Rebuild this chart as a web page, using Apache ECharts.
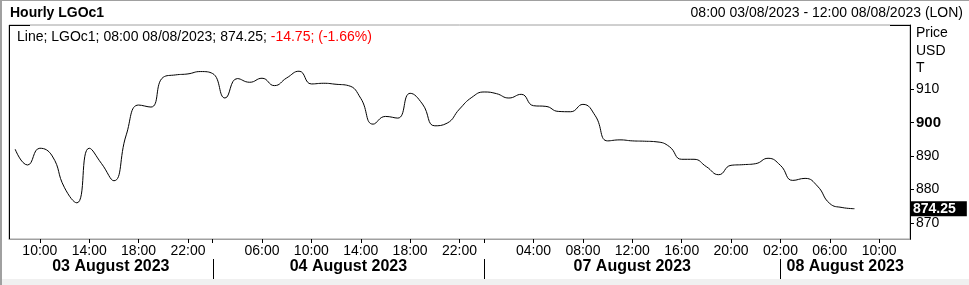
<!DOCTYPE html>
<html><head><meta charset="utf-8">
<script src="https://cdn.jsdelivr.net/npm/echarts@6/dist/echarts.min.js"></script>
<style>html,body{margin:0;padding:0;background:#fff;overflow:hidden}#c{width:969px;height:285px}</style>
</head><body><div id="c"></div>
<script>
// ---- data ----
const dayNames = ['03 August 2023', '04 August 2023', '07 August 2023', '08 August 2023'];
const dayKeys = ['03/08', '04/08', '07/08', '08/08'];
const dayFirstHour = [8, 2, 0, 2];
const dayLastHour = [23, 23, 23, 12];
const hourTickLabels = ['03/08 10:00', '03/08 14:00', '03/08 18:00', '03/08 22:00',
  '04/08 06:00', '04/08 10:00', '04/08 14:00', '04/08 18:00', '04/08 22:00',
  '07/08 04:00', '07/08 08:00', '07/08 12:00', '07/08 16:00', '07/08 20:00',
  '08/08 02:00', '08/08 06:00', '08/08 10:00'];
const daySeparatorTicks = ['04/08 02:00', '07/08 00:00'];
const yTickValues = [870, 880, 890, 900, 910];
const boldTick = 900;
const prices = [
  892.0, 887.3, 892.3, 890.0, 880.5, 876.0, 892.3, 887.7, 882.6, 896.3,
  905.2, 904.6, 913.5, 914.2, 914.5, 915.2, 914.6, 907.3, 913.1, 912.0,
  913.2, 911.0, 913.3, 915.3, 911.5, 911.7, 911.4, 911.0, 907.2, 899.5,
  901.8, 901.3, 908.7, 905.5, 899.0, 899.8, 904.0, 907.5, 909.1, 908.6,
  907.3, 908.4, 905.0, 904.8, 903.3, 903.2, 905.4, 902.0, 894.5, 894.8,
  894.5, 894.4, 894.2, 892.8, 889.0, 889.0, 886.8, 884.4, 887.2, 887.4,
  887.7, 889.3, 887.2, 882.7, 883.3, 881.0, 875.8, 874.6, 874.25];
const netChange = -14.75;
const pctChange = -1.66;
const lastTime = '08:00 08/08/2023';
const rangeText = '08:00 03/08/2023 - 12:00 08/08/2023 (LON)';
const chartTitle = 'Hourly LGOc1';
const ric = 'LGOc1';
const yMin = 865.2, yMax = 929.1;

// ---- build ----
const FONT = '"Liberation Sans", Arial, sans-serif';
const pad = n => String(n).padStart(2, '0');
const categories = [];
const dayStartIndex = [];
dayKeys.forEach((k, d) => {
  dayStartIndex.push(categories.length);
  for (let h = dayFirstHour[d]; h <= dayLastHour[d]; h++) categories.push(k + ' ' + pad(h) + ':00');
});
const labelSet = new Set(hourTickLabels);
const tickSet = new Set(hourTickLabels.concat(daySeparatorTicks));
const last = prices[prices.length - 1];

const chart = echarts.init(document.getElementById('c'), null, {renderer: 'canvas'});
chart.setOption({
  animation: false,
  backgroundColor: '#fff',
  title: [
    {text: chartTitle, left: 10, top: 6, padding: 0, textStyle: {fontSize: 14, fontWeight: 'bold', color: '#000', fontFamily: FONT}},
    {text: rangeText, right: 6, top: 6, padding: 0, textStyle: {fontSize: 14, fontWeight: 'normal', color: '#000', fontFamily: FONT}}
  ],
  grid: {left: 9, right: 59, top: 25, bottom: 46, show: true, borderColor: '#a0a0a0', borderWidth: 1, backgroundColor: '#fff'},
  xAxis: {
    type: 'category', data: categories, boundaryGap: true,
    axisLine: {show: true, lineStyle: {color: '#a0a0a0'}},
    axisTick: {show: true, alignWithLabel: true, length: 4, interval: (i, v) => tickSet.has(v), lineStyle: {color: '#000'}},
    axisLabel: {interval: (i, v) => labelSet.has(v), formatter: v => v.slice(6), color: '#000', fontSize: 14, margin: 5, fontFamily: FONT},
    splitLine: {show: false}
  },
  yAxis: {
    type: 'value', position: 'right', min: yMin, max: yMax, scale: true,
    splitLine: {show: false},
    axisLine: {show: true, lineStyle: {color: '#000'}},
    axisTick: {show: true, length: 4, customValues: yTickValues, lineStyle: {color: '#000'}},
    axisLabel: {customValues: yTickValues, margin: 6, color: '#000', fontSize: 14, fontFamily: FONT,
      formatter: v => v === boldTick ? '{b|' + v + '}' : String(v),
      rich: {b: {fontWeight: 'bold', fontSize: 15, fontFamily: FONT, color: '#000'}}}
  },
  series: [
    {
      type: 'line', data: prices, smooth: true, symbol: 'none', clip: true,
      lineStyle: {color: '#000', width: 1},
      markLine: {
        silent: true, symbol: 'none', animation: false,
        lineStyle: {color: 'rgba(0,0,0,0)', width: 1, type: 'solid'},
        emphasis: {disabled: true},
        label: {show: true, position: 'end', distance: 1, formatter: last.toFixed(2),
          backgroundColor: '#000', color: '#fff', fontWeight: 'bold', fontSize: 14, fontFamily: FONT, padding: [1, 11, 0, 2]},
        data: [{yAxis: last}]
      }
    },
    {
      type: 'custom', silent: true, clip: false,
      data: dayNames.map((n, i) => [i, yMin]),
      renderItem: (params, api) => {
        const d = api.value(0);
        const cs = params.coordSys;
        const bottom = cs.y + cs.height;
        const left = d === 0 ? cs.x : api.coord([dayStartIndex[d], yMin])[0];
        const right = d === dayNames.length - 1 ? cs.x + cs.width : api.coord([dayStartIndex[d + 1], yMin])[0];
        const children = [{type: 'text', style: {text: dayNames[d], x: (left + right) / 2, y: bottom + 28,
          align: 'center', verticalAlign: 'middle', font: 'bold 16px ' + FONT, fill: '#000'}}];
        if (d > 0) {
          const lx = Math.round(left) + 0.5;
          children.push({type: 'line', shape: {x1: lx, y1: bottom + 20, x2: lx, y2: bottom + 40}, style: {stroke: '#000', lineWidth: 1}});
        }
        return {type: 'group', children};
      }
    }
  ],
  graphic: [
    {type: 'text', left: 17, top: 30, style: {
      text: '{k|Line; ' + ric + '; ' + lastTime + '; ' + last.toFixed(2) + '; }{r|' + netChange.toFixed(2) + '; (' + pctChange.toFixed(2) + '%)}',
      rich: {k: {fill: '#000', fontSize: 14, fontFamily: FONT}, r: {fill: '#ff0000', fontSize: 14, fontFamily: FONT}}}},
    {type: 'text', left: 916, top: 26, style: {text: 'Price', fontSize: 14, fontFamily: FONT, fill: '#000'}},
    {type: 'text', left: 916, top: 44, style: {text: 'USD', fontSize: 14, fontFamily: FONT, fill: '#000'}},
    {type: 'text', left: 916, top: 61, style: {text: 'T', fontSize: 14, fontFamily: FONT, fill: '#000'}},
    {type: 'rect', shape: {x: 9, y: 25, width: 1, height: 214}, style: {fill: '#000'}},
    {type: 'rect', shape: {x: 9, y: 25, width: 21, height: 1}, style: {fill: '#000'}},
    {type: 'rect', shape: {x: 890, y: 25, width: 21, height: 1}, style: {fill: '#000'}},
    {type: 'rect', shape: {x: 9, y: 239, width: 21, height: 1}, style: {fill: '#000'}},
    {type: 'rect', shape: {x: 890, y: 239, width: 21, height: 1}, style: {fill: '#000'}},
    {type: 'rect', shape: {x: 0, y: 279, width: 969, height: 6}, style: {fill: '#f0f0f0'}},
    {type: 'rect', shape: {x: 0, y: 0, width: 2, height: 285}, style: {fill: '#a0a0a0'}},
    {type: 'rect', shape: {x: 0, y: 0, width: 969, height: 1}, style: {fill: '#a0a0a0'}}
  ]
});
</script></body></html>
